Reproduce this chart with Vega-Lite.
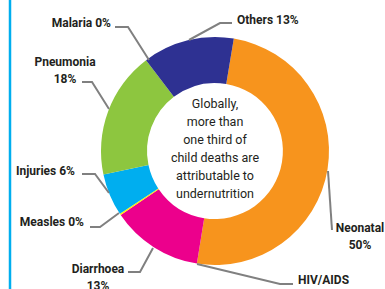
{
  "$schema": "https://vega.github.io/schema/vega-lite/v6.json",
  "width": 340,
  "height": 276,
  "autosize": "none",
  "padding": {"left": 45, "top": 13, "right": 0, "bottom": 0},
  "background": "white",
  "config": {"view": {"stroke": null}},
  "datasets": {
    "slices": [
      {"cause": "Neonatal", "value": 50, "ord": 1},
      {"cause": "HIV/AIDS", "value": 0, "ord": 2},
      {"cause": "Diarrhoea", "value": 13, "ord": 3},
      {"cause": "Measles", "value": 0.2, "ord": 4},
      {"cause": "Injuries", "value": 6, "ord": 5},
      {"cause": "Pneumonia", "value": 18, "ord": 6},
      {"cause": "Malaria", "value": 0, "ord": 7},
      {"cause": "Others", "value": 13, "ord": 8}
    ],
    "leaders": [
      {"cause": "Malaria", "i": 1, "x": -100, "y": 124},
      {"cause": "Malaria", "i": 2, "x": -87, "y": 124},
      {"cause": "Malaria", "i": 3, "x": -66, "y": 91},
      {"cause": "Pneumonia", "i": 1, "x": -133, "y": 69},
      {"cause": "Pneumonia", "i": 2, "x": -123, "y": 69},
      {"cause": "Pneumonia", "i": 3, "x": -106, "y": 42},
      {"cause": "Others", "i": 1, "x": 17, "y": 128},
      {"cause": "Others", "i": 2, "x": 5, "y": 128},
      {"cause": "Others", "i": 3, "x": -26, "y": 111},
      {"cause": "Injuries", "i": 1, "x": -133, "y": -23},
      {"cause": "Injuries", "i": 2, "x": -120, "y": -23},
      {"cause": "Injuries", "i": 3, "x": -106, "y": -42},
      {"cause": "Measles", "i": 1, "x": -125, "y": -76},
      {"cause": "Measles", "i": 2, "x": -115, "y": -76},
      {"cause": "Measles", "i": 3, "x": -96, "y": -62},
      {"cause": "Diarrhoea", "i": 1, "x": -87, "y": -121},
      {"cause": "Diarrhoea", "i": 2, "x": -75, "y": -121},
      {"cause": "Diarrhoea", "i": 3, "x": -62, "y": -97},
      {"cause": "HIV/AIDS", "i": 1, "x": 78, "y": -133},
      {"cause": "HIV/AIDS", "i": 2, "x": 65, "y": -133},
      {"cause": "HIV/AIDS", "i": 3, "x": -18, "y": -113},
      {"cause": "Neonatal", "i": 1, "x": 117, "y": -79},
      {"cause": "Neonatal", "i": 2, "x": 113, "y": -20}
    ],
    "labelsRight": [
      {"label": "Malaria 0%", "x": -104, "y": 124},
      {"label": "Injuries 6%", "x": -140, "y": -24},
      {"label": "Measles 0%", "x": -131, "y": -75}
    ],
    "labelsCenter": [
      {"label": "Pneumonia\n18%", "x": -150, "y": 85},
      {"label": "Diarrhoea\n13%", "x": -117, "y": -122},
      {"label": "Neonatal\n50%", "x": 145, "y": -81}
    ],
    "labelsLeft": [
      {"label": "Others 13%", "x": 22, "y": 127},
      {"label": "HIV/AIDS", "x": 83, "y": -133}
    ],
    "center": [
      {"label": "Globally,\nmore than\none third of\nchild deaths are\nattributable to\nundernutrition", "x": 0, "y": 43}
    ],
    "border": [
      {"x": -205, "y": 151, "y2": -138}
    ]
  },
  "layer": [
    {
      "data": {"name": "slices"},
      "mark": {"type": "arc", "outerRadius": 114, "innerRadius": 68},
      "encoding": {
        "theta": {"field": "value", "type": "quantitative", "stack": true, "scale": {"range": [0.1658, 6.449]}},
        "order": {"field": "ord", "type": "quantitative"},
        "color": {
          "field": "cause", "type": "nominal", "legend": null,
          "scale": {
            "domain": ["Neonatal", "HIV/AIDS", "Diarrhoea", "Measles", "Injuries", "Pneumonia", "Malaria", "Others"],
            "range": ["#F7941D", "#BE1E2D", "#EC008C", "#FFF200", "#00AEEF", "#8DC63F", "#F15A29", "#2E3192"]
          }
        }
      }
    },
    {
      "data": {"name": "leaders"},
      "mark": {"type": "line", "color": "#808080", "strokeWidth": 2},
      "encoding": {
        "x": {"field": "x", "type": "quantitative", "scale": {"domain": [-170, 170], "nice": false, "zero": false}, "axis": null},
        "y": {"field": "y", "type": "quantitative", "scale": {"domain": [-138, 138], "nice": false, "zero": false}, "axis": null},
        "detail": {"field": "cause"},
        "order": {"field": "i", "type": "quantitative"}
      }
    },
    {
      "data": {"name": "labelsRight"},
      "mark": {"type": "text", "align": "right", "font": "Roboto", "fontWeight": "bold", "fontSize": 12, "lineBreak": "\n", "lineHeight": 17, "baseline": "alphabetic", "color": "#231F20"},
      "encoding": {
        "x": {"field": "x", "type": "quantitative"},
        "y": {"field": "y", "type": "quantitative"},
        "text": {"field": "label"}
      }
    },
    {
      "data": {"name": "labelsCenter"},
      "mark": {"type": "text", "align": "center", "font": "Roboto", "fontWeight": "bold", "fontSize": 12, "lineBreak": "\n", "lineHeight": 17, "baseline": "alphabetic", "color": "#231F20"},
      "encoding": {
        "x": {"field": "x", "type": "quantitative"},
        "y": {"field": "y", "type": "quantitative"},
        "text": {"field": "label"}
      }
    },
    {
      "data": {"name": "labelsLeft"},
      "mark": {"type": "text", "align": "left", "font": "Roboto", "fontWeight": "bold", "fontSize": 12, "lineBreak": "\n", "lineHeight": 17, "baseline": "alphabetic", "color": "#231F20"},
      "encoding": {
        "x": {"field": "x", "type": "quantitative"},
        "y": {"field": "y", "type": "quantitative"},
        "text": {"field": "label"}
      }
    },
    {
      "data": {"name": "center"},
      "mark": {"type": "text", "font": "Roboto", "fontSize": 12.5, "lineBreak": "\n", "lineHeight": 18, "baseline": "alphabetic", "align": "center", "color": "#231F20"},
      "encoding": {
        "x": {"field": "x", "type": "quantitative"},
        "y": {"field": "y", "type": "quantitative"},
        "text": {"field": "label"}
      }
    },
    {
      "data": {"name": "border"},
      "mark": {"type": "rule", "color": "#00AEEF", "strokeWidth": 2.5},
      "encoding": {
        "x": {"field": "x", "type": "quantitative"},
        "y": {"field": "y", "type": "quantitative"},
        "y2": {"field": "y2"}
      }
    }
  ]
}
